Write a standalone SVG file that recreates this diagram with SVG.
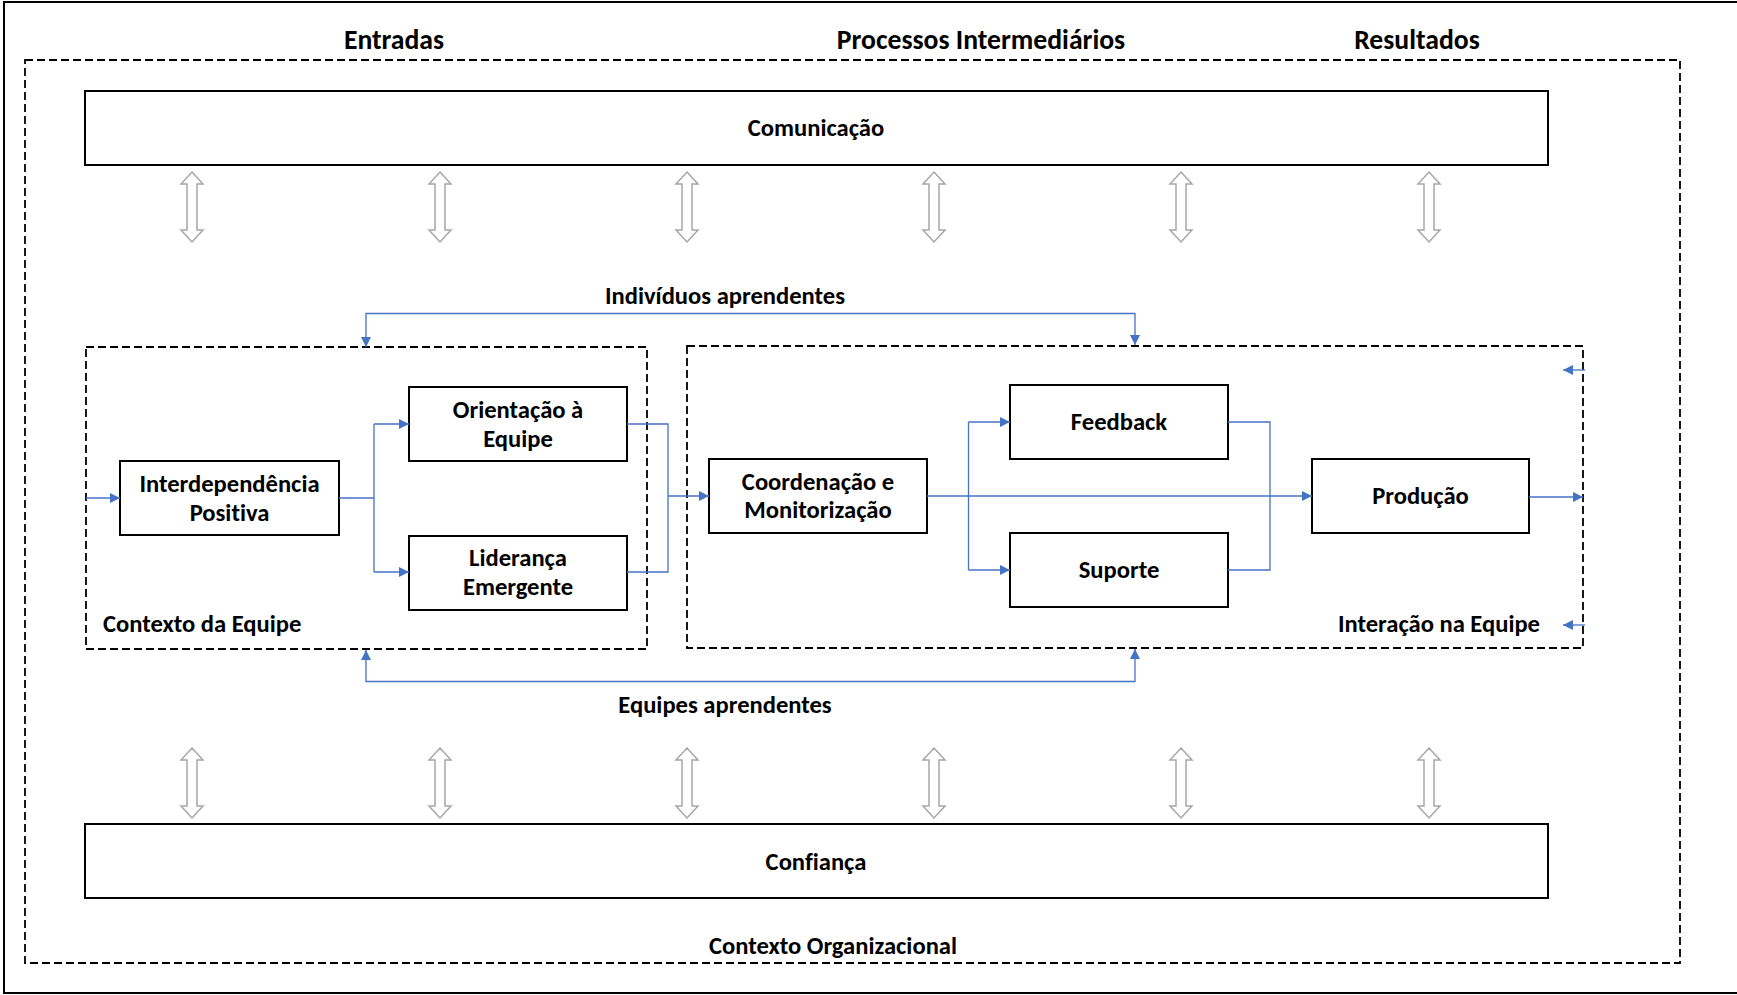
<svg xmlns="http://www.w3.org/2000/svg" width="1737" height="995" viewBox="0 0 1737 995">
  <style>
    text { font-family: Carlito, Lato, "Open Sans", sans-serif; font-weight: bold; fill: #000; font-variant-ligatures: none; }
    .title { font-size: 27.7px; text-anchor: middle; }
    .lbl { font-size: 24.6px; text-anchor: middle; }
    .box { fill: #fff; stroke: #000; stroke-width: 2; }
    .dash { fill: none; stroke: #000; stroke-width: 1.8; stroke-dasharray: 8 4; }
    .link { fill: none; stroke: #4472C4; stroke-width: 1.3; }
    .hollow { fill: #fff; stroke: #a6a6a6; stroke-width: 1.5; }
  </style>
  <defs>
    <marker id="head" markerUnits="userSpaceOnUse" markerWidth="11" markerHeight="11" refX="10" refY="5" orient="auto-start-reverse">
      <path d="M0,0 L10,5 L0,10 Z" fill="#4472C4"/>
    </marker>
    <!-- vertical hollow double arrow, centred on x=0, 70 px tall -->
    <polygon id="dbl" class="hollow" points="0,0 11,12 5,12 5,58 11,58 0,70 -11,58 -5,58 -5,12 -11,12"/>
  </defs>

  <rect width="1737" height="995" fill="#fff"/>
  <!-- page frame -->
  <path d="M1740,2 H4 V993 H1740" fill="none" stroke="#000" stroke-width="2"/>

  <!-- column titles -->
  <g id="titles">
    <text class="title" x="394" y="49">Entradas</text>
    <text class="title" x="981" y="49">Processos Intermediários</text>
    <text class="title" x="1417" y="49">Resultados</text>
  </g>

  <!-- organisational context -->
  <g id="contexto-organizacional">
    <rect class="dash" x="25" y="60" width="1655" height="903"/>
    <text class="lbl" x="833" y="954">Contexto Organizacional</text>
  </g>

  <g id="comunicacao">
    <rect class="box" x="85" y="91" width="1463" height="74"/>
    <text class="lbl" x="816" y="136">Comunicação</text>
  </g>

  <g id="confianca">
    <rect class="box" x="85" y="824" width="1463" height="74"/>
    <text class="lbl" x="816" y="870">Confiança</text>
  </g>

  <!-- hollow two-way arrows -->
  <g id="dbl-top">
    <use href="#dbl" x="192" y="172"/>
    <use href="#dbl" x="440" y="172"/>
    <use href="#dbl" x="687" y="172"/>
    <use href="#dbl" x="934" y="172"/>
    <use href="#dbl" x="1181" y="172"/>
    <use href="#dbl" x="1429" y="172"/>
  </g>
  <g id="dbl-bottom">
    <use href="#dbl" x="192" y="748"/>
    <use href="#dbl" x="440" y="748"/>
    <use href="#dbl" x="687" y="748"/>
    <use href="#dbl" x="934" y="748"/>
    <use href="#dbl" x="1181" y="748"/>
    <use href="#dbl" x="1429" y="748"/>
  </g>

  <!-- team context -->
  <g id="contexto-equipe">
    <rect class="dash" x="86" y="347" width="561" height="302"/>
    <text x="103" y="632" style="font-size:24.6px">Contexto da Equipe</text>
  </g>

  <!-- team interaction -->
  <g id="interacao-equipe">
    <rect class="dash" x="687" y="346" width="896" height="302"/>
    <text x="1540" y="632" style="font-size:24.6px;text-anchor:end">Interação na Equipe</text>
  </g>

  <g id="interdependencia">
    <rect class="box" x="120" y="461" width="219" height="74"/>
    <text class="lbl" x="229.5" y="492">Interdependência</text>
    <text class="lbl" x="229.5" y="521">Positiva</text>
  </g>

  <g id="orientacao">
    <rect class="box" x="409" y="387" width="218" height="74"/>
    <text class="lbl" x="518" y="418">Orientação à</text>
    <text class="lbl" x="518" y="447">Equipe</text>
  </g>

  <g id="lideranca">
    <rect class="box" x="409" y="536" width="218" height="74"/>
    <text class="lbl" x="518" y="566">Liderança</text>
    <text class="lbl" x="518" y="595">Emergente</text>
  </g>

  <g id="coordenacao">
    <rect class="box" x="709" y="459" width="218" height="74"/>
    <text class="lbl" x="818" y="490">Coordenação e</text>
    <text class="lbl" x="818" y="518">Monitorização</text>
  </g>

  <g id="feedback">
    <rect class="box" x="1010" y="385" width="218" height="74"/>
    <text class="lbl" x="1119" y="430">Feedback</text>
  </g>

  <g id="suporte">
    <rect class="box" x="1010" y="533" width="218" height="74"/>
    <text class="lbl" x="1119" y="578">Suporte</text>
  </g>

  <g id="producao">
    <rect class="box" x="1312" y="459" width="217" height="74"/>
    <text class="lbl" x="1420.5" y="504">Produção</text>
  </g>

  <g id="learning-labels">
    <text class="lbl" x="725" y="304">Indivíduos aprendentes</text>
    <text class="lbl" x="725" y="713">Equipes aprendentes</text>
  </g>

  <!-- connectors -->
  <g id="connectors">
    <path class="link" d="M366,347 V313.5 H1135 V345" marker-start="url(#head)" marker-end="url(#head)"/>
    <path class="link" d="M366,650 V681.5 H1135 V649" marker-start="url(#head)" marker-end="url(#head)"/>

    <path class="link" d="M86,498 H120" marker-end="url(#head)"/>
    <path class="link" d="M339,498 H374"/>
    <path class="link" d="M374,424 V572"/>
    <path class="link" d="M374,424 H409" marker-end="url(#head)"/>
    <path class="link" d="M374,572 H409" marker-end="url(#head)"/>

    <path class="link" d="M627,424 H668 V572 H627"/>
    <path class="link" d="M668,496 H709" marker-end="url(#head)"/>

    <path class="link" d="M927,496 H1312" marker-end="url(#head)"/>
    <path class="link" d="M968.5,422 V570"/>
    <path class="link" d="M968.5,422 H1010" marker-end="url(#head)"/>
    <path class="link" d="M968.5,570 H1010" marker-end="url(#head)"/>
    <path class="link" d="M1228,422 H1270 V570 H1228"/>

    <path class="link" d="M1529,497 H1583" marker-end="url(#head)"/>
    <path class="link" d="M1585,370 H1563" marker-end="url(#head)"/>
    <path class="link" d="M1585,625 H1563" marker-end="url(#head)"/>
  </g>
</svg>
